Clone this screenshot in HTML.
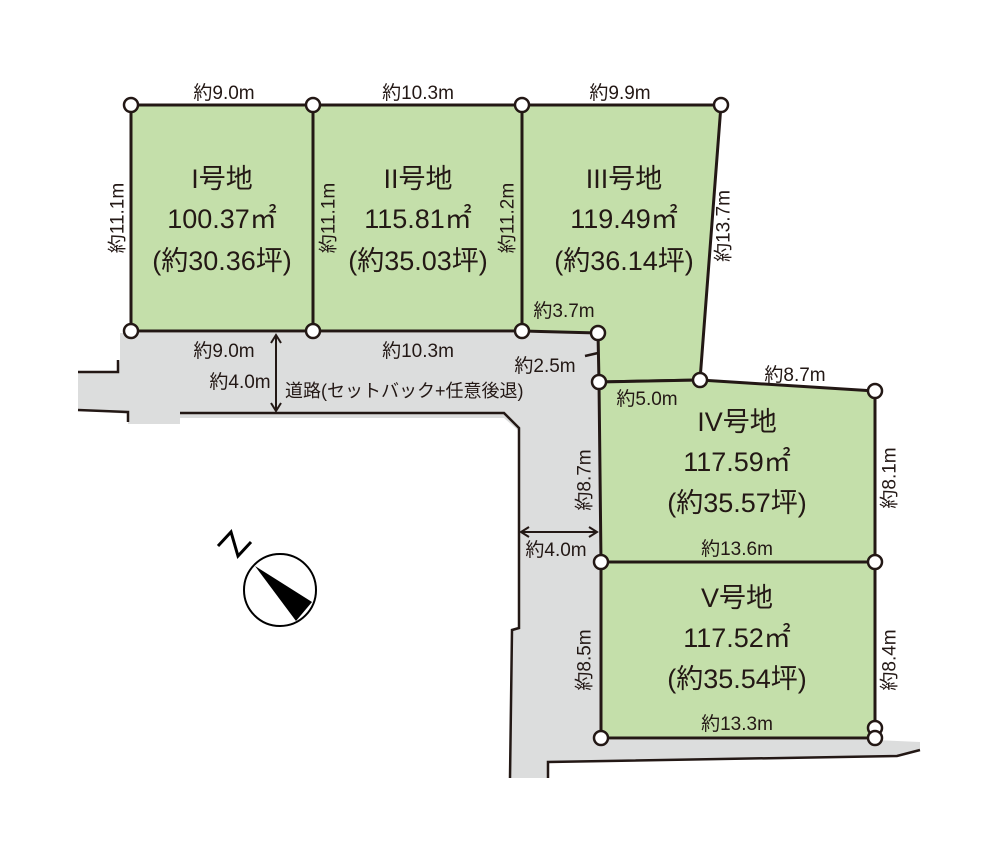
<!DOCTYPE html>
<html><head><meta charset="utf-8"><style>
body{margin:0;background:#fff}
svg{display:block}
text{font-family:"Liberation Sans","Noto Sans CJK JP",sans-serif;fill:#231815}
.d{font-size:19px}
.b{font-size:27px}
</style></head><body>
<svg width="1000" height="860" viewBox="0 0 1000 860">
<path d="M120,333 L598,333 L601,740 L875,740 L920,742 L920,750 L897,756 L548,762 L548,778 L510,778 L512,630 L520,628 L520,432 L504,418 L180,418 L180,424 L128,424 L128,414 L78,410 L78,372 L118,372 L120,360 Z" fill="#dcdddd"/>
<path d="M78,372 L118,372 L118,360" fill="none" stroke="#231815" stroke-width="2.5"/>
<path d="M78,410 L128,412 L128,422" fill="none" stroke="#231815" stroke-width="2.5"/>
<path d="M180,413 L504,413 L519,428 L519,628 L512,630 L510,778" fill="none" stroke="#231815" stroke-width="2.5"/>
<path d="M548,778 L548,762 L897,756 L920,750" fill="none" stroke="#231815" stroke-width="2.5"/>
<g fill="#c4dfaa" stroke="#231815" stroke-width="3" stroke-linejoin="round">
<path d="M131,105 L313,105 L313,331 L131,331 Z"/>
<path d="M313,105 L522,105 L522,331 L313,331 Z"/>
<path d="M522,105 L721,105 L700,380 L599,382 L598,333 L522,331 Z"/>
<path d="M599,382 L700,380 L875,391 L875,562 L601,562 Z"/>
<path d="M601,562 L875,562 L875,738 L601,738 Z"/>
</g>
<path d="M585,356 L598,353" stroke="#231815" stroke-width="2.5"/>
<g fill="#fff" stroke="#231815" stroke-width="2.5">
<circle cx="131" cy="105" r="7"/><circle cx="313" cy="105" r="7"/><circle cx="522" cy="105" r="7"/><circle cx="721" cy="105" r="7"/>
<circle cx="131" cy="331" r="7"/><circle cx="313" cy="331" r="7"/><circle cx="522" cy="331" r="7"/><circle cx="598" cy="333" r="7"/>
<circle cx="599" cy="382" r="7"/><circle cx="700" cy="380" r="7"/><circle cx="875" cy="391" r="7"/>
<circle cx="601" cy="562" r="7"/><circle cx="875" cy="562" r="7"/>
<circle cx="875" cy="728" r="7"/><circle cx="601" cy="738" r="7"/><circle cx="875" cy="738" r="7"/>
</g>
<g stroke="#231815" stroke-width="2">
<line x1="276" y1="336" x2="276" y2="410"/>
<path d="M271,343 L276,335 L281,343 M271,403 L276,411 L281,403" fill="none"/>
<line x1="522" y1="532" x2="596" y2="532"/>
<path d="M529,527 L521,532 L529,537 M589,527 L597,532 L589,537" fill="none"/>
</g>
<g class="d">
<text x="224" y="99" text-anchor="middle">約9.0m</text>
<text x="418" y="99" text-anchor="middle">約10.3m</text>
<text x="620" y="99" text-anchor="middle">約9.9m</text>
<text x="224" y="357" text-anchor="middle">約9.0m</text>
<text x="418" y="357" text-anchor="middle">約10.3m</text>
<text x="564" y="317" text-anchor="middle">約3.7m</text>
<text x="545" y="372" text-anchor="middle">約2.5m</text>
<text x="240" y="388" text-anchor="middle">約4.0m</text>
<text x="285" y="397" style="font-size:18px">道路(セットバック+任意後退)</text>
<text x="647" y="405" text-anchor="middle">約5.0m</text>
<text x="795" y="381" text-anchor="middle">約8.7m</text>
<text x="737" y="555" text-anchor="middle">約13.6m</text>
<text x="556" y="556" text-anchor="middle">約4.0m</text>
<text x="737" y="730" text-anchor="middle">約13.3m</text>
<g dominant-baseline="central" text-anchor="middle">
<text transform="translate(118,218) rotate(-90)">約11.1m</text>
<text transform="translate(329,218) rotate(-90)">約11.1m</text>
<text transform="translate(508,218) rotate(-90)">約11.2m</text>
<text transform="translate(724,226) rotate(-90)">約13.7m</text>
<text transform="translate(585,480) rotate(-90)">約8.7m</text>
<text transform="translate(890,478) rotate(-90)">約8.1m</text>
<text transform="translate(585,660) rotate(-90)">約8.5m</text>
<text transform="translate(890,660) rotate(-90)">約8.4m</text>
</g>
</g>
<g class="b" text-anchor="middle">
<text x="222" y="188">I号地</text><text x="222" y="228">100.37㎡</text><text x="222" y="270">(約30.36坪)</text>
<text x="418" y="188">II号地</text><text x="418" y="228">115.81㎡</text><text x="418" y="270">(約35.03坪)</text>
<text x="624" y="188">III号地</text><text x="624" y="228">119.49㎡</text><text x="624" y="270">(約36.14坪)</text>
<text x="737" y="431">IV号地</text><text x="737" y="471">117.59㎡</text><text x="737" y="512">(約35.57坪)</text>
<text x="737" y="607">V号地</text><text x="737" y="647">117.52㎡</text><text x="737" y="688">(約35.54坪)</text>
</g>
<circle cx="280" cy="590" r="36" fill="#fff" stroke="#000" stroke-width="2"/>
<path d="M255,566 L312,602 L296,621 Z" fill="#000"/>
<path d="M218,546 L231,532 L238,556 L251,542" fill="none" stroke="#000" stroke-width="3"/>
</svg>
</body></html>
